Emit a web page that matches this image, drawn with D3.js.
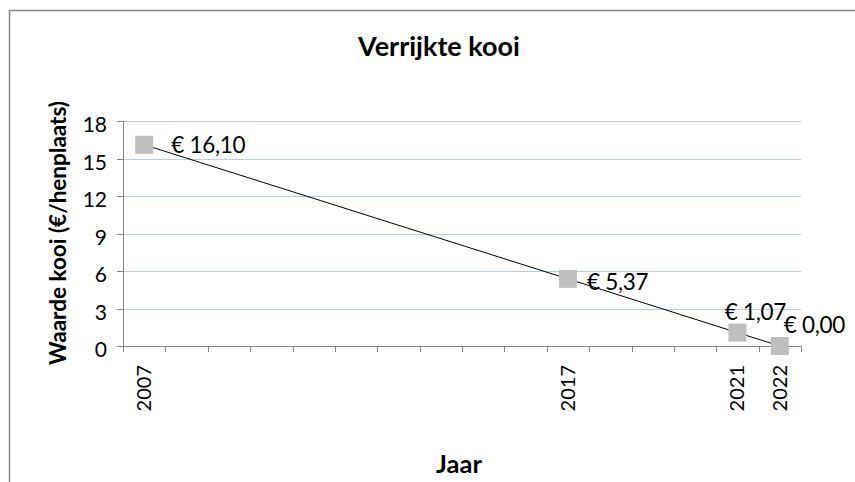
<!DOCTYPE html>
<html>
<head>
<meta charset="utf-8">
<script src="https://cdn.jsdelivr.net/npm/d3@7"></script>
<style>
  body { margin: 0; background: #fff; }
  svg { display: block; font-family: Lato, "Open Sans", sans-serif; }
</style>
</head>
<body>
<svg id="chart" width="855" height="482"></svg>
<script>
// data
var years = [2007, 2017, 2021, 2022];
var values = [16.10, 5.37, 1.07, 0.00];
var valueLabels = ["€ 16,10", "€ 5,37", "€ 1,07", "€ 0,00"];
var axisYears = [2007, 2008, 2009, 2010, 2011, 2012, 2013, 2014, 2015, 2016, 2017, 2018, 2019, 2020, 2021, 2022];
var yTicks = [0, 3, 6, 9, 12, 15, 18];
var title = "Verrijkte kooi";
var xTitle = "Jaar";
var yTitle = "Waarde kooi (€/henplaats)";

var svg = d3.select("#chart");
var plotLeft = 123, plotRight = 801, plotTop = 121, plotBottom = 346;

// chart frame (cropped on the right and bottom)
svg.append("path")
    .attr("d", "M9.5,482V10.5H855")
    .attr("fill", "none")
    .attr("stroke", "#878787")
    .attr("stroke-width", 1.5);

var x = d3.scaleBand()
    .domain(axisYears)
    .range([plotLeft, plotRight])
    .padding(0);

var y = d3.scaleLinear()
    .domain([0, 18])
    .range([plotBottom, plotTop]);

// gridlines
svg.append("g")
    .selectAll("line")
    .data(yTicks.filter(function (d) { return d > 0; }))
    .enter()
    .append("line")
    .attr("x1", plotLeft)
    .attr("x2", plotRight)
    .attr("y1", function (d) { return Math.round(y(d)) + 0.5; })
    .attr("y2", function (d) { return Math.round(y(d)) + 0.5; })
    .attr("stroke", "#b4d0ee")
    .attr("stroke-width", 1);

// y axis
var yAxis = svg.append("g");
yAxis.append("line")
    .attr("x1", plotLeft + 0.5).attr("x2", plotLeft + 0.5)
    .attr("y1", plotTop).attr("y2", plotBottom + 6)
    .attr("stroke", "#868686");
yAxis.selectAll("line.tick")
    .data(yTicks)
    .enter()
    .append("line")
    .attr("class", "tick")
    .attr("x1", plotLeft - 6).attr("x2", plotLeft)
    .attr("y1", function (d) { return Math.round(y(d)) + 0.5; })
    .attr("y2", function (d) { return Math.round(y(d)) + 0.5; })
    .attr("stroke", "#868686");
yAxis.selectAll("text")
    .data(yTicks)
    .enter()
    .append("text")
    .attr("x", plotLeft - 16)
    .attr("y", function (d) { return y(d) + 11; })
    .attr("text-anchor", "end")
    .style("font-size", "21px")
    .style("fill", "#000")
    .text(function (d) { return d; });

// x axis
var xAxis = svg.append("g");
xAxis.append("line")
    .attr("x1", plotLeft).attr("x2", plotRight)
    .attr("y1", plotBottom + 0.5).attr("y2", plotBottom + 0.5)
    .attr("stroke", "#868686");
var bounds = axisYears.map(function (d) { return x(d); }).concat([plotRight]);
xAxis.selectAll("line.tick")
    .data(bounds)
    .enter()
    .append("line")
    .attr("class", "tick")
    .attr("x1", function (d) { return Math.round(d) + 0.5; })
    .attr("x2", function (d) { return Math.round(d) + 0.5; })
    .attr("y1", plotBottom)
    .attr("y2", plotBottom + 6)
    .attr("stroke", "#868686");
xAxis.selectAll("text")
    .data(years)
    .enter()
    .append("text")
    .attr("transform", function (d) {
        return "translate(" + (x(d) + x.bandwidth() / 2 + 7) + "," + (plotBottom + 19) + ") rotate(-90)";
    })
    .attr("text-anchor", "end")
    .style("font-size", "20px")
    .text(function (d) { return d; });

// series line
var pts = years.map(function (d, i) { return [x(d) + x.bandwidth() / 2, y(values[i])]; });
svg.append("path")
    .datum(pts)
    .attr("d", d3.line())
    .attr("fill", "none")
    .attr("stroke", "#000")
    .attr("stroke-width", 1);

// markers
svg.append("g")
    .selectAll("rect")
    .data(pts)
    .enter()
    .append("rect")
    .attr("x", function (d) { return d[0] - 9; })
    .attr("y", function (d) { return d[1] - 9; })
    .attr("width", 18)
    .attr("height", 18)
    .attr("fill", "#bfbfbf");

// data labels
var place = {
    2007: [27, 8, "start"],
    2017: [19, 11, "start"],
    2021: [18, -13, "middle"],
    2022: [4, -13, "start"]
};
svg.append("g")
    .selectAll("text")
    .data(years)
    .enter()
    .append("text")
    .attr("x", function (d, i) { return pts[i][0] + place[d][0]; })
    .attr("y", function (d, i) { return pts[i][1] + place[d][1]; })
    .attr("text-anchor", function (d) { return place[d][2]; })
    .style("font-size", "22.5px")
    .style("letter-spacing", "-0.3px")
    .text(function (d, i) { return valueLabels[i]; });

// titles
svg.append("text")
    .attr("x", 439)
    .attr("y", 56)
    .attr("text-anchor", "middle")
    .style("font-size", "27px")
    .style("font-weight", "bold")
    .text(title);

svg.append("text")
    .attr("x", 459)
    .attr("y", 473)
    .attr("text-anchor", "middle")
    .style("font-size", "25.5px")
    .style("font-weight", "bold")
    .text(xTitle);

svg.append("text")
    .attr("transform", "translate(66,233) rotate(-90)")
    .attr("text-anchor", "middle")
    .style("font-size", "22.5px")
    .style("font-weight", "bold")
    .text(yTitle);
</script>
</body>
</html>
